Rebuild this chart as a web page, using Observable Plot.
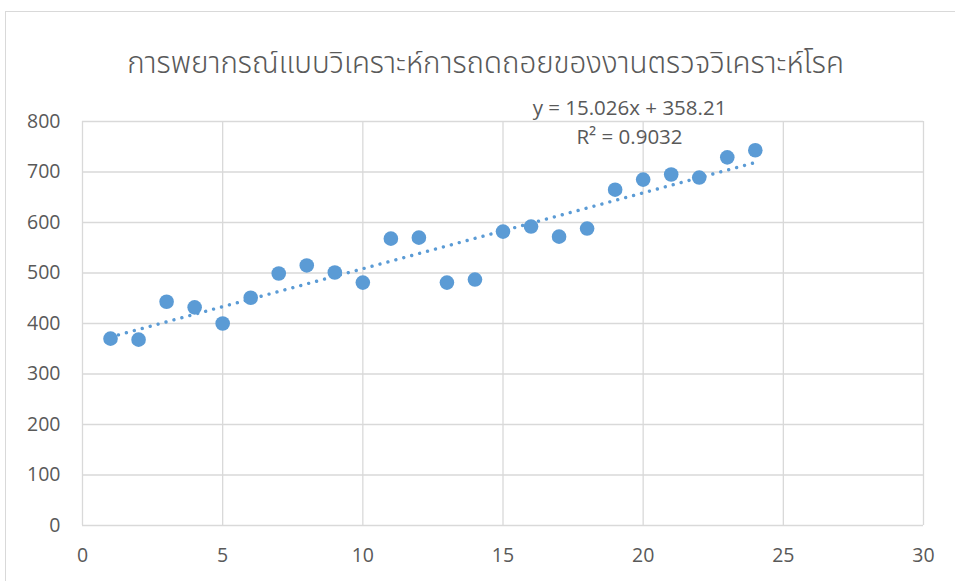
<!DOCTYPE html>
<html>
<head>
<meta charset="utf-8">
<script src="https://cdn.jsdelivr.net/npm/d3@7"></script>
<script src="https://cdn.jsdelivr.net/npm/@observablehq/plot@0.6"></script>
<style>
  html, body { margin: 0; padding: 0; background: #fff; overflow: hidden; }
  #wrap { position: relative; width: 955px; height: 581px; overflow: hidden; }
  #border { position: absolute; left: 5px; top: 11px; width: 1000px; height: 1000px;
            border: 1px solid #d9d9d9; box-sizing: border-box; pointer-events: none; }
  #chart { position: absolute; left: 0; top: 0; }
</style>
</head>
<body>
<div id="wrap">
  <div id="border"></div>
  <div id="chart"></div>
</div>
<script>
// Monthly workload of disease-analysis tests (period 1..24)
const periods = [1, 2, 3, 4, 5, 6, 7, 8, 9, 10, 11, 12, 13, 14, 15, 16, 17, 18, 19, 20, 21, 22, 23, 24];
const workload = [370, 368, 443, 432, 400, 451, 499, 515, 501, 481, 568, 570, 481, 487, 582, 592, 572, 588, 665, 685, 695, 689, 729, 743];

// Linear trend as reported on the chart
const slope = 15.026;
const intercept = 358.21;
const rSquared = 0.9032;
const trendRange = [1, 24];

const xTicks = [0, 5, 10, 15, 20, 25, 30];
const yTicks = [0, 100, 200, 300, 400, 500, 600, 700, 800];

const title = "การพยากรณ์แบบวิเคราะห์การถดถอยของงานตรวจวิเคราะห์โรค";

const points = periods.map((p, i) => ({x: p, y: workload[i]}));
const trend = trendRange.map(x => ({x, y: intercept + slope * x}));

const blue = "#5b9bd5";
const grid = "#d9d9d9";
const ink = "#595959";
const font = "'Open Sans', 'Noto Sans', 'DejaVu Sans', sans-serif";

const chart = Plot.plot({
  width: 955,
  height: 581,
  marginLeft: 82,
  marginRight: 32,
  marginTop: 121,
  marginBottom: 56,
  style: {fontFamily: font, fontSize: "19px", color: ink, background: "transparent"},
  x: {domain: [0, 30], ticks: xTicks, tickSize: 0, label: null},
  y: {domain: [0, 800], ticks: yTicks, tickSize: 0, label: null},
  marks: [
    Plot.ruleX(xTicks, {stroke: grid, strokeWidth: 1.3}),
    Plot.ruleY(yTicks, {stroke: grid, strokeWidth: 1.3}),
    Plot.axisX({ticks: xTicks, tickSize: 0, tickPadding: 23, fill: ink, fontSize: 19.5, label: null}),
    Plot.axisY({ticks: yTicks, tickSize: 0, tickPadding: 22, fill: ink, fontSize: 19.5, label: null}),
    Plot.line(trend, {x: "x", y: "y", stroke: blue, strokeWidth: 3.4,
      strokeDasharray: "0.01 8.2", strokeLinecap: "round"}),
    Plot.dot(points, {x: "x", y: "y", r: 7.3, fill: blue, stroke: "none"}),
    Plot.text([`y = ${slope}x + ${intercept}`], {frameAnchor: "top-left", dx: 547, dy: -21,
      fill: ink, fontSize: 20.5, textAnchor: "middle"}),
    Plot.text([`R² = ${rSquared}`], {frameAnchor: "top-left", dx: 547, dy: 8,
      fill: ink, fontSize: 20.5, textAnchor: "middle"}),
    Plot.text([title], {frameAnchor: "top-left", dx: 403, dy: -69,
      fill: ink, fontSize: 29.5, fontWeight: 300, textAnchor: "middle",
      fontFamily: "'Noto Sans Thai', 'Leelawadee UI', Tahoma, 'DejaVu Sans', sans-serif"})
  ]
});
document.getElementById("chart").appendChild(chart);
</script>
</body>
</html>
